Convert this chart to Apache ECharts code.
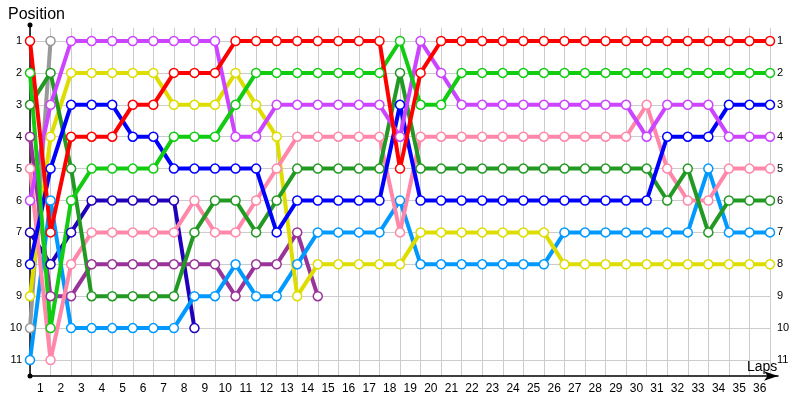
<!DOCTYPE html>
<html><head><meta charset="utf-8">
<script src="https://cdn.jsdelivr.net/npm/echarts@6/dist/echarts.min.js"></script>
<style>html,body{margin:0;padding:0;background:#fff}#c{width:800px;height:400px}</style>
</head><body><div id="c"></div>
<script>
var lapLabels = [];
for (var k = 1; k <= 36; k++) lapLabels.push(String(k));
var positionTicks = [1,2,3,4,5,6,7,8,9,10,11];

var red     = [1,7,4,4,4,3,3,2,2,2,1,1,1,1,1,1,1,1,5,2,1,1,1,1,1,1,1,1,1,1,1,1,1,1,1,1,1];
var green   = [2,10,6,5,5,5,5,4,4,4,3,2,2,2,2,2,2,2,1,3,3,2,2,2,2,2,2,2,2,2,2,2,2,2,2,2,2];
var dkgreen = [3,2,5,9,9,9,9,9,7,6,6,7,6,5,5,5,5,5,2,5,5,5,5,5,5,5,5,5,5,5,5,6,5,7,6,6,6];
var magenta = [6,3,1,1,1,1,1,1,1,1,4,4,3,3,3,3,3,3,4,1,2,3,3,3,3,3,3,3,3,3,4,3,3,3,4,4,4];
var yellow  = [9,4,2,2,2,2,2,3,3,3,2,3,4,9,8,8,8,8,8,7,7,7,7,7,7,7,8,8,8,8,8,8,8,8,8,8,8];
var blue    = [8,5,3,3,3,4,4,5,5,5,5,5,7,6,6,6,6,6,3,6,6,6,6,6,6,6,6,6,6,6,6,4,4,4,3,3,3];
var navy    = [7,8,7,6,6,6,6,6,10];
var pink    = [5,11,8,7,7,7,7,7,6,7,7,6,5,4,4,4,4,4,7,4,4,4,4,4,4,4,4,4,4,4,3,5,6,6,5,5,5];
var ltblue  = [11,6,10,10,10,10,10,10,9,9,8,9,9,8,7,7,7,7,6,8,8,8,8,8,8,8,7,7,7,7,7,7,7,5,7,7,7];
var purple  = [4,9,9,8,8,8,8,8,8,8,9,8,8,7,9];
var gray    = [10,1];

var drivers = [
  {d: gray, c: '#999999'},
  {d: navy, c: '#2200bb'},
  {d: purple, c: '#993399'},
  {d: ltblue, c: '#0099ff'},
  {d: yellow, c: '#dddd00'},
  {d: pink, c: '#ff88aa'},
  {d: dkgreen, c: '#229922'},
  {d: blue, c: '#0000ff'},
  {d: magenta, c: '#cc44ff'},
  {d: green, c: '#11cc11'},
  {d: red, c: '#ff0000'}
];

var series = drivers.map(function (dr) {
  return {
    type: 'line',
    xAxisIndex: 0, yAxisIndex: 0,
    data: dr.d.map(function (p, i) { return [i, p]; }),
    clip: false,
    symbol: 'circle', symbolSize: 9,
    lineStyle: {color: dr.c, width: 4},
    itemStyle: {color: '#ffffff', borderColor: dr.c, borderWidth: 1.5},
    emphasis: {disabled: true},
    animation: false
  };
});

var F = "'Liberation Sans', Arial, sans-serif";
var chart = echarts.init(document.getElementById('c'), null, {renderer: 'canvas'});
chart.setOption({
  animation: false,
  backgroundColor: '#ffffff',
  title: [
    {text: 'Position', left: 3, top: 2, textStyle: {fontFamily: F, fontSize: 16, fontWeight: 'normal', color: '#000'}},
    {text: 'Laps', left: 742, top: 355, textStyle: {fontFamily: F, fontSize: 14, fontWeight: 'normal', color: '#000'}}
  ],
  grid: [
    {left: 30, right: 30, top: 41, bottom: 40},
    {left: 30, right: 30, top: 28, bottom: 24},
    {left: 30, right: 22, top: 25, bottom: 24}
  ],
  xAxis: [
    {gridIndex: 0, type: 'value', min: 0, max: 36, interval: 1, show: false},
    {gridIndex: 1, type: 'value', min: 0, max: 36, interval: 1,
     axisLine: {show: false}, axisTick: {show: false}, axisLabel: {show: false},
     splitLine: {show: true, lineStyle: {color: '#cccccc', width: 1}}},
    {gridIndex: 1, type: 'category', data: lapLabels, boundaryGap: true, position: 'bottom',
     axisLine: {show: false}, axisTick: {show: false}, splitLine: {show: false},
     axisLabel: {interval: 0, margin: 7, fontFamily: F, fontSize: 12, color: '#000'}},
    {gridIndex: 2, type: 'value', min: 0, max: 1, position: 'bottom',
     axisLine: {show: true, symbol: ['none', 'arrow'], symbolSize: [7, 14], lineStyle: {color: '#000', width: 1.5}},
     axisTick: {show: false}, axisLabel: {show: false}, splitLine: {show: false}}
  ],
  yAxis: [
    {gridIndex: 0, type: 'value', min: 1, max: 11, interval: 1, inverse: true, position: 'left',
     axisLine: {show: false}, axisTick: {show: false},
     axisLabel: {margin: 8, fontFamily: F, fontSize: 11, color: '#000'},
     splitLine: {show: true, lineStyle: {color: '#cccccc', width: 1}}},
    {gridIndex: 0, type: 'value', min: 1, max: 11, interval: 1, inverse: true, position: 'right',
     axisLine: {show: false}, axisTick: {show: false},
     axisLabel: {margin: 7, fontFamily: F, fontSize: 11, color: '#000'},
     splitLine: {show: false}},
    {gridIndex: 1, type: 'value', min: 0, max: 1, show: false},
    {gridIndex: 2, type: 'value', min: 0, max: 1, position: 'left',
     axisLine: {show: true, symbol: ['circle', 'circle'], symbolSize: [5, 5], lineStyle: {color: '#000', width: 1.5}},
     axisTick: {show: false}, axisLabel: {show: false}, splitLine: {show: false}}
  ],
  series: series
});
</script>
</body></html>
